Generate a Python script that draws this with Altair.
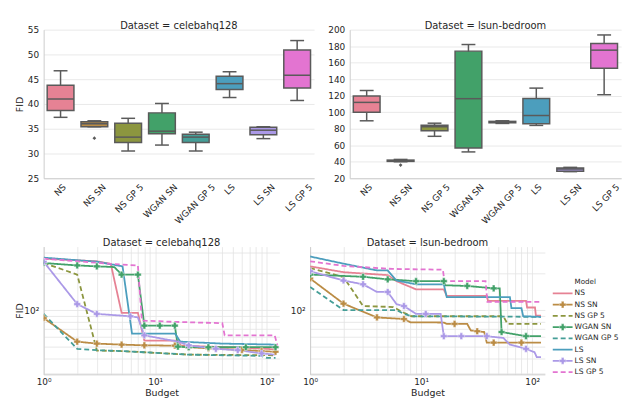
import colorsys
import altair as alt
import pandas as pd

FONT = "DejaVu Sans"
TXT = "#262626"
GRID = "#e3e3e3"
SPINE = "#cccccc"
BOXLINE = "#5a5a5a"

MODELS = ["NS", "NS SN", "NS GP 5", "WGAN SN", "WGAN GP 5", "LS", "LS SN", "LS GP 5"]
PALETTE = ["#f77189", "#ce9032", "#97a431", "#32b166", "#36ada4", "#39a7d0", "#a48cf4", "#f561dd"]
DASHES = [[1, 0], [1, 0], [5, 3], [1, 0], [5, 3], [1, 0], [1, 0], [5, 3]]
HAS_MARKER = [0, 1, 0, 1, 0, 0, 1, 0]

# ---- box statistics (min whisker, q1, median, q3, max whisker) ----
CELEBA_LO = [37.3, 35.4, 30.5, 31.7, 30.5, 41.3, 33.0, 40.7]
CELEBA_Q1 = [38.7, 35.4, 32.2, 34.0, 32.2, 42.9, 33.8, 43.2]
CELEBA_MED = [41.0, 36.0, 33.3, 34.5, 33.3, 44.1, 34.7, 45.8]
CELEBA_Q3 = [43.8, 36.4, 36.1, 38.2, 33.9, 45.6, 35.3, 50.9]
CELEBA_HI = [46.7, 36.6, 37.1, 40.1, 34.3, 46.5, 35.4, 52.8]
CELEBA_OUT_MODEL = ["NS SN"]
CELEBA_OUT_VAL = [33.1]

LSUN_LO = [89.6, 40.0, 70.8, 51.9, 86.4, 84.0, 28.0, 121.2]
LSUN_Q1 = [99.9, 40.4, 77.6, 56.7, 87.2, 86.0, 28.4, 153.2]
LSUN_MED = [111.9, 41.2, 82.4, 116.4, 88.0, 96.0, 31.2, 175.2]
LSUN_Q3 = [119.6, 42.0, 84.3, 174.0, 88.9, 116.7, 32.4, 183.2]
LSUN_HI = [126.3, 42.8, 86.7, 182.0, 89.6, 129.2, 33.2, 193.6]
LSUN_OUT_MODEL = ["NS SN"]
LSUN_OUT_VAL = [36.0]

# ---- best FID vs budget: (budget, fid[, marker]) ----
C_NS = [(1, 265), (3, 252), (4, 240), (5, 95), (7, 95), (8, 56), (16, 56), (17, 51), (60, 49), (120, 47.6)]
C_NS_SN = [(1, 86, 1), (2, 55, 1), (3, 53, 1), (5, 52, 1), (8, 51.3, 1), (15, 51, 1), (20, 49.5, 1),
           (30, 48.5, 1), (60, 47, 1), (90, 46, 1), (120, 45.4, 1)]
C_NS_GP = [(1, 244), (2, 196), (3, 46.5), (5, 46), (8, 45), (20, 43), (120, 42.5)]
C_WGAN_SN = [(1, 244, 1), (2, 233, 1), (3, 229, 1), (4.3, 226, 0), (5, 196, 1), (7, 196, 1), (8, 74.5, 1),
             (11, 74.5, 1), (15, 74.5, 1), (16, 50, 1), (20, 49.5, 1), (30, 49.5, 1), (65, 49.5, 1), (120, 49.5, 1)]
C_WGAN_GP = [(1, 93), (2, 48), (3, 46.8), (5, 46), (8, 45), (20, 43), (90, 42), (100, 40.4), (120, 40.4)]
C_LS = [(1, 270), (3, 250), (5.1, 229), (6.2, 64), (15.1, 64), (16.8, 55), (40, 53), (120, 52)]
C_LS_SN = [(1, 250, 1), (2, 112, 1), (3, 93, 1), (6, 89, 1), (7, 87, 0), (8, 62, 1), (16, 55, 0), (20, 51.3, 1),
           (35, 48, 1), (55, 46.8, 1), (90, 44, 1), (120, 43, 0)]
C_LS_GP = [(1, 265), (4, 240), (7, 233), (7.6, 82), (15, 80), (40, 78), (42, 62), (118, 62), (125, 51)]

L_NS = [(1, 229), (2, 205), (5, 194), (6, 173), (9, 148), (16, 148), (17, 131), (39, 131), (40, 119),
        (88, 119), (90, 105), (106, 105), (108, 90), (120, 90)]
L_NS_SN = [(1, 182, 1), (2, 113, 1), (4, 87, 1), (7, 84.5, 1), (8, 79.4, 0), (16, 79, 0), (17, 77, 0),
           (20, 77, 1), (26, 77, 0), (28, 68, 0), (32, 67, 1), (37, 66, 0), (39, 54, 0), (45, 54, 1),
           (80, 54, 1), (120, 54, 0)]
L_NS_GP = [(1, 222), (2, 187), (3, 108), (5.6, 106), (7, 95), (8.2, 89), (55, 89), (60, 77), (120, 77)]
L_WGAN_SN = [(1, 196, 1), (3, 188, 1), (5, 179, 1), (9, 173, 1), (16, 173, 1), (16.5, 160, 0), (26, 158, 1),
             (45, 151, 1), (51, 151, 0), (53, 66, 1), (88, 61, 1), (120, 61, 0)]
L_WGAN_GP = [(1, 155), (2, 100), (6, 100), (7, 93), (8.2, 89), (120, 88)]
L_LS = [(1, 276), (2, 241), (4, 212), (5, 212), (6, 175), (9, 163), (16, 163), (17, 128), (63, 128),
        (65, 104), (80, 104), (83, 89), (120, 88)]
L_LS_SN = [(1, 209, 1), (2, 175, 1), (3, 163, 1), (4, 141, 0), (5, 141, 1), (6, 112, 0), (7, 108, 1),
           (9, 93, 0), (11, 93, 1), (15, 93, 0), (16, 61, 1), (23, 61, 1), (39, 61, 1), (55, 59, 0),
           (63, 52, 0), (88, 48, 1), (105, 45, 0), (110, 41, 0), (120, 41, 0)]
L_LS_GP = [(1, 252), (2, 231), (5.5, 218), (15.7, 215), (16.2, 173), (38, 173), (39.5, 117), (120, 117)]

CELEBA_SERIES = [C_NS, C_NS_SN, C_NS_GP, C_WGAN_SN, C_WGAN_GP, C_LS, C_LS_SN, C_LS_GP]
LSUN_SERIES = [L_NS, L_NS_SN, L_NS_GP, L_WGAN_SN, L_WGAN_GP, L_LS, L_LS_SN, L_LS_GP]

X_TICKS = [1, 2, 3, 4, 5, 6, 7, 8, 9, 10, 20, 30, 40, 50, 60, 70, 80, 90, 100]
Y_TICKS = [30, 40, 50, 60, 70, 80, 90, 100, 200, 300]


def desat(hexc, prop=0.75):
    r, g, b = (int(hexc[i:i + 2], 16) / 255 for i in (1, 3, 5))
    h, l, s = colorsys.rgb_to_hls(r, g, b)
    r, g, b = colorsys.hls_to_rgb(h, l, s * prop)
    return "#%02x%02x%02x" % tuple(int(round(v * 255)) for v in (r, g, b))


BOX_COLORS = [desat(c) for c in PALETTE]


def box_panel(lo, q1, med, q3, hi, out_m, out_v, title, ydom, yvals, ytitle, width):
    df = pd.DataFrame({"Model": MODELS, "lo": lo, "q1": q1, "med": med, "q3": q3, "hi": hi})
    odf = pd.DataFrame({"Model": out_m, "v": out_v})
    xenc = alt.X("Model:N", sort=MODELS,
                 scale=alt.Scale(domain=MODELS, paddingInner=0, paddingOuter=0),
                 axis=alt.Axis(title=None, labelAngle=-45, labelAlign="right", labelBaseline="middle",
                               labelPadding=7, labelOffset={"expr": "length(datum.label)*2.0"},
                               grid=False))
    ys = alt.Scale(domain=ydom, nice=False, zero=False)
    if ytitle:
        ya = alt.Axis(title=ytitle, values=yvals, grid=True, minExtent=15, maxExtent=15, titlePadding=4)
    else:
        ya = alt.Axis(title=None, values=yvals, grid=True)
    base = alt.Chart(df)
    whisk = base.mark_rule(color=BOXLINE, strokeWidth=1.5).encode(
        x=xenc, y=alt.Y("lo:Q", scale=ys, axis=ya), y2="hi:Q")
    cap_lo = base.mark_tick(color=BOXLINE, size=14, thickness=1.5, opacity=1).encode(
        x=xenc, y=alt.Y("lo:Q", scale=ys, axis=ya))
    cap_hi = base.mark_tick(color=BOXLINE, size=14, thickness=1.5, opacity=1).encode(
        x=xenc, y=alt.Y("hi:Q", scale=ys, axis=ya))
    box = base.mark_bar(size=27, stroke=BOXLINE, strokeWidth=1.5, opacity=1).encode(
        x=xenc, y=alt.Y("q1:Q", scale=ys, axis=ya), y2="q3:Q",
        color=alt.Color("Model:N", scale=alt.Scale(domain=MODELS, range=BOX_COLORS), legend=None))
    medl = base.mark_tick(color=BOXLINE, size=27, thickness=1.5, opacity=1).encode(
        x=xenc, y=alt.Y("med:Q", scale=ys, axis=ya))
    outp = alt.Chart(odf).mark_point(shape="diamond", filled=True, size=14, color=BOXLINE, opacity=1).encode(
        x=xenc, y=alt.Y("v:Q", scale=ys, axis=ya))
    return alt.layer(whisk, cap_lo, cap_hi, box, medl, outp).properties(
        width=width, height=150, title=alt.TitleParams(title, offset=-5.5))


def line_panel(series, title, ytitle, width):
    rows = []
    for m, pts in zip(MODELS, series):
        for p in pts:
            rows.append({"Model": m, "Budget": p[0], "FID": p[1], "mk": p[2] if len(p) > 2 else 0})
    df = pd.DataFrame(rows)
    xs = alt.Scale(type="log", domain=[1, 130], nice=False)
    ys = alt.Scale(type="log", domain=[29.6, 333], nice=False)
    xa = alt.Axis(title="Budget", values=X_TICKS, grid=True, labelFlush=False, labelOverlap=False,
                  labelPadding=3, titlePadding=1,
                  labelExpr="datum.value == 1 ? '10⁰' : datum.value == 10 ? '10¹' : datum.value == 100 ? '10²' : ''")
    if ytitle:
        ya = alt.Axis(title=ytitle, values=Y_TICKS, grid=True, labelOverlap=False, minExtent=15, maxExtent=15,
                      titlePadding=4, labelExpr="datum.value == 100 ? '10²' : ''")
    else:
        ya = alt.Axis(title=None, values=Y_TICKS, grid=True, labelOverlap=False,
                      labelExpr="datum.value == 100 ? '10²' : ''")
    col = alt.Color("Model:N", scale=alt.Scale(domain=MODELS, range=PALETTE), legend=None)
    dash = alt.StrokeDash("Model:N", scale=alt.Scale(domain=MODELS, range=DASHES), legend=None)
    base = alt.Chart(df)
    lines = base.mark_line(strokeWidth=1.8, clip=True).encode(
        x=alt.X("Budget:Q", scale=xs, axis=xa), y=alt.Y("FID:Q", scale=ys, axis=ya),
        color=col, strokeDash=dash)
    pts = base.transform_filter("datum.mk == 1").mark_point(
        shape="cross", filled=True, size=45, opacity=1, stroke="white", strokeWidth=0.4, clip=True).encode(
        x=alt.X("Budget:Q", scale=xs, axis=xa), y=alt.Y("FID:Q", scale=ys, axis=ya), color=col)
    return alt.layer(lines, pts).properties(
        width=width, height=129, title=alt.TitleParams(title, offset=-1))


def legend_panel():
    df = pd.DataFrame({"Model": MODELS, "mk": HAS_MARKER, "row": list(range(1, len(MODELS) + 1))})
    tdf = pd.DataFrame({"Model": ["Model"], "row": [0]})
    ysc = alt.Scale(domain=[-3.17, 10.05], reverse=True, nice=False, zero=False)
    y = alt.Y("row:Q", scale=ysc, axis=None)
    col = alt.Color("Model:N", scale=alt.Scale(domain=MODELS, range=PALETTE), legend=None)
    dash = alt.StrokeDash("Model:N", scale=alt.Scale(domain=MODELS, range=DASHES), legend=None)
    rule = alt.Chart(df).mark_rule(strokeWidth=1.8).encode(
        x=alt.value(2), x2=alt.value(22), y=y, color=col, strokeDash=dash)
    pts = alt.Chart(df).transform_filter("datum.mk == 1").mark_point(
        shape="cross", filled=True, size=45, opacity=1, stroke="white", strokeWidth=0.4).encode(
        x=alt.value(12), y=y, color=col)
    txt = alt.Chart(df).mark_text(align="left", baseline="middle", font=FONT, fontSize=7.6, color=TXT).encode(
        x=alt.value(24), y=y, text="Model:N")
    ttl = alt.Chart(tdf).mark_text(align="left", baseline="middle", font=FONT, fontSize=7.2, color=TXT).encode(
        x=alt.value(24), y=y, text="Model:N")
    return alt.layer(rule, pts, txt, ttl).properties(width=82, height=150)


tl = box_panel(CELEBA_LO, CELEBA_Q1, CELEBA_MED, CELEBA_Q3, CELEBA_HI, CELEBA_OUT_MODEL, CELEBA_OUT_VAL,
               "Dataset = celebahq128", [25, 55], [25, 30, 35, 40, 45, 50, 55], "FID", 273)
tr = box_panel(LSUN_LO, LSUN_Q1, LSUN_MED, LSUN_Q3, LSUN_HI, LSUN_OUT_MODEL, LSUN_OUT_VAL,
               "Dataset = lsun-bedroom", [20, 200], list(range(20, 201, 20)), None, 274)
bl = line_panel(CELEBA_SERIES, "Dataset = celebahq128", "FID", 238)
br = line_panel(LSUN_SERIES, "Dataset = lsun-bedroom", None, 237)
lg = legend_panel()

top = alt.hconcat(tl, tr, spacing=13)
bottom = alt.hconcat(alt.hconcat(bl, br, spacing=10), lg, spacing=6)

chart = alt.vconcat(top, bottom, spacing=12).properties(
    padding={"left": 7, "top": 11, "right": 0, "bottom": 0}
).configure_view(stroke=None).configure_axis(
    labelFont=FONT, labelFontSize=9, labelColor=TXT, titleFont=FONT, titleFontSize=9.5,
    titleFontWeight="normal", titleColor=TXT, ticks=False, labelPadding=5,
    domainColor=SPINE, domainWidth=1, gridColor=GRID, gridWidth=0.8
).configure_title(
    font=FONT, fontSize=10, fontWeight="normal", color=TXT, anchor="middle"
)

chart.save("out.html", embed_options={"renderer": "svg", "actions": False})
